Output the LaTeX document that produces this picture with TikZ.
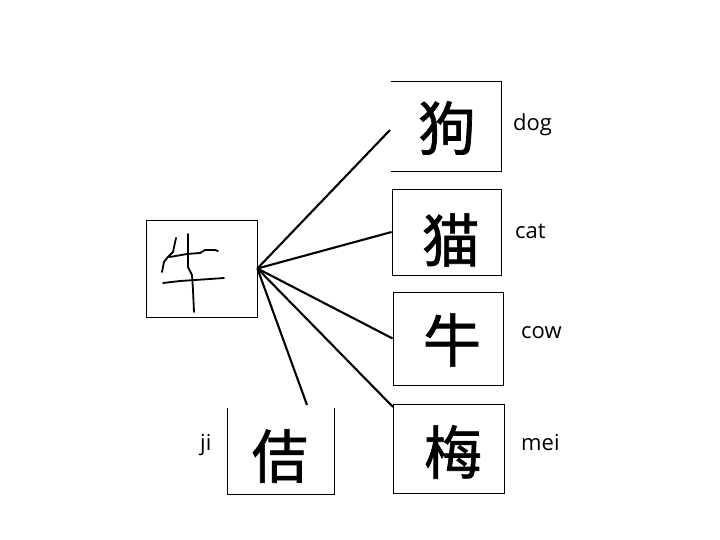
\documentclass[tikz,border=0pt]{standalone}
\usepackage{fontspec}
\setmainfont{Open Sans}
\newfontfamily\cjk[FakeBold=1.2]{Noto Sans CJK SC}
\begin{document}
\begin{tikzpicture}[x=1pt,y=-1pt,
  box/.style={rectangle,inner sep=0pt,minimum width=#1},
  boxline/.style={line width=0.8pt},
  conn/.style={line width=2.1pt},
  hand/.style={line width=1.8pt,line cap=round,line join=round},
  hanzi/.style={font=\cjk\fontsize{58}{60}\selectfont,inner sep=0pt},
  lbl/.style={font=\fontsize{22}{24}\selectfont,anchor=base west,inner sep=0pt}]
\useasboundingbox[fill=white] (0,0) rectangle (720,540);
% boxes
\node[box=111pt,minimum height=97pt,draw,boxline] (hand) at (201.5,268.5) {};
\node[box=110pt,minimum height=89pt] (dog) at (446,126.5) {};
\node[box=109pt,minimum height=86pt,draw,boxline] (cat) at (446.5,232) {};
\node[box=110pt,minimum height=93pt,draw,boxline] (cow) at (448,338.5) {};
\node[box=111pt,minimum height=89pt,draw,boxline] (mei) at (448.5,448.5) {};
\node[box=106pt,minimum height=86pt] (ji) at (281,451) {};
% open boxes
\draw[boxline] (dog.north west) -- (dog.north east) -- (dog.south east) -- (dog.south west);
\draw[boxline] (ji.north west) -- (ji.south west) -- (ji.south east) -- (ji.north east);
% characters
\node[hanzi] (cdog) at (447,128) {狗};
\node[hanzi] (ccat) at (451,240) {猫};
\node[hanzi] (ccow) at (452,340) {牛};
\node[hanzi] (cmei) at (453,452) {梅};
\node[hanzi] (cji) at (280,456) {佶};
% labels
\node[lbl] (ldog) at (513,131) {dog};
\node[lbl] (lcat) at (515,239) {cat};
\node[lbl] (lcow) at (521,338) {cow};
\node[lbl] (lmei) at (521,450) {mei};
\node[lbl] (lji) at (200,450) {ji};
% handwritten character
\draw[hand] (176,238) -- (173,252) -- (167,258) -- (164,262) -- (162,272);
\draw[hand] (170,257) -- (187,254) -- (200,253) -- (205,250) -- (215,250) -- (218,251);
\draw[hand] (188,234) -- (188,267) -- (192,275) -- (193,290) -- (194,312);
\draw[hand] (163,283) -- (180,281) -- (210,279) -- (224,278);
% connectors
\coordinate (edog) at (390,130);
\coordinate (emei) at (393,407);
\coordinate (eji) at (307,405);
\draw[conn] (hand.east) -- (edog);
\draw[conn] (hand.east) -- (cat.west);
\draw[conn] (hand.east) -- (cow.west);
\draw[conn] (hand.east) -- (emei);
\draw[conn] (hand.east) -- (eji);
\end{tikzpicture}
\end{document}
